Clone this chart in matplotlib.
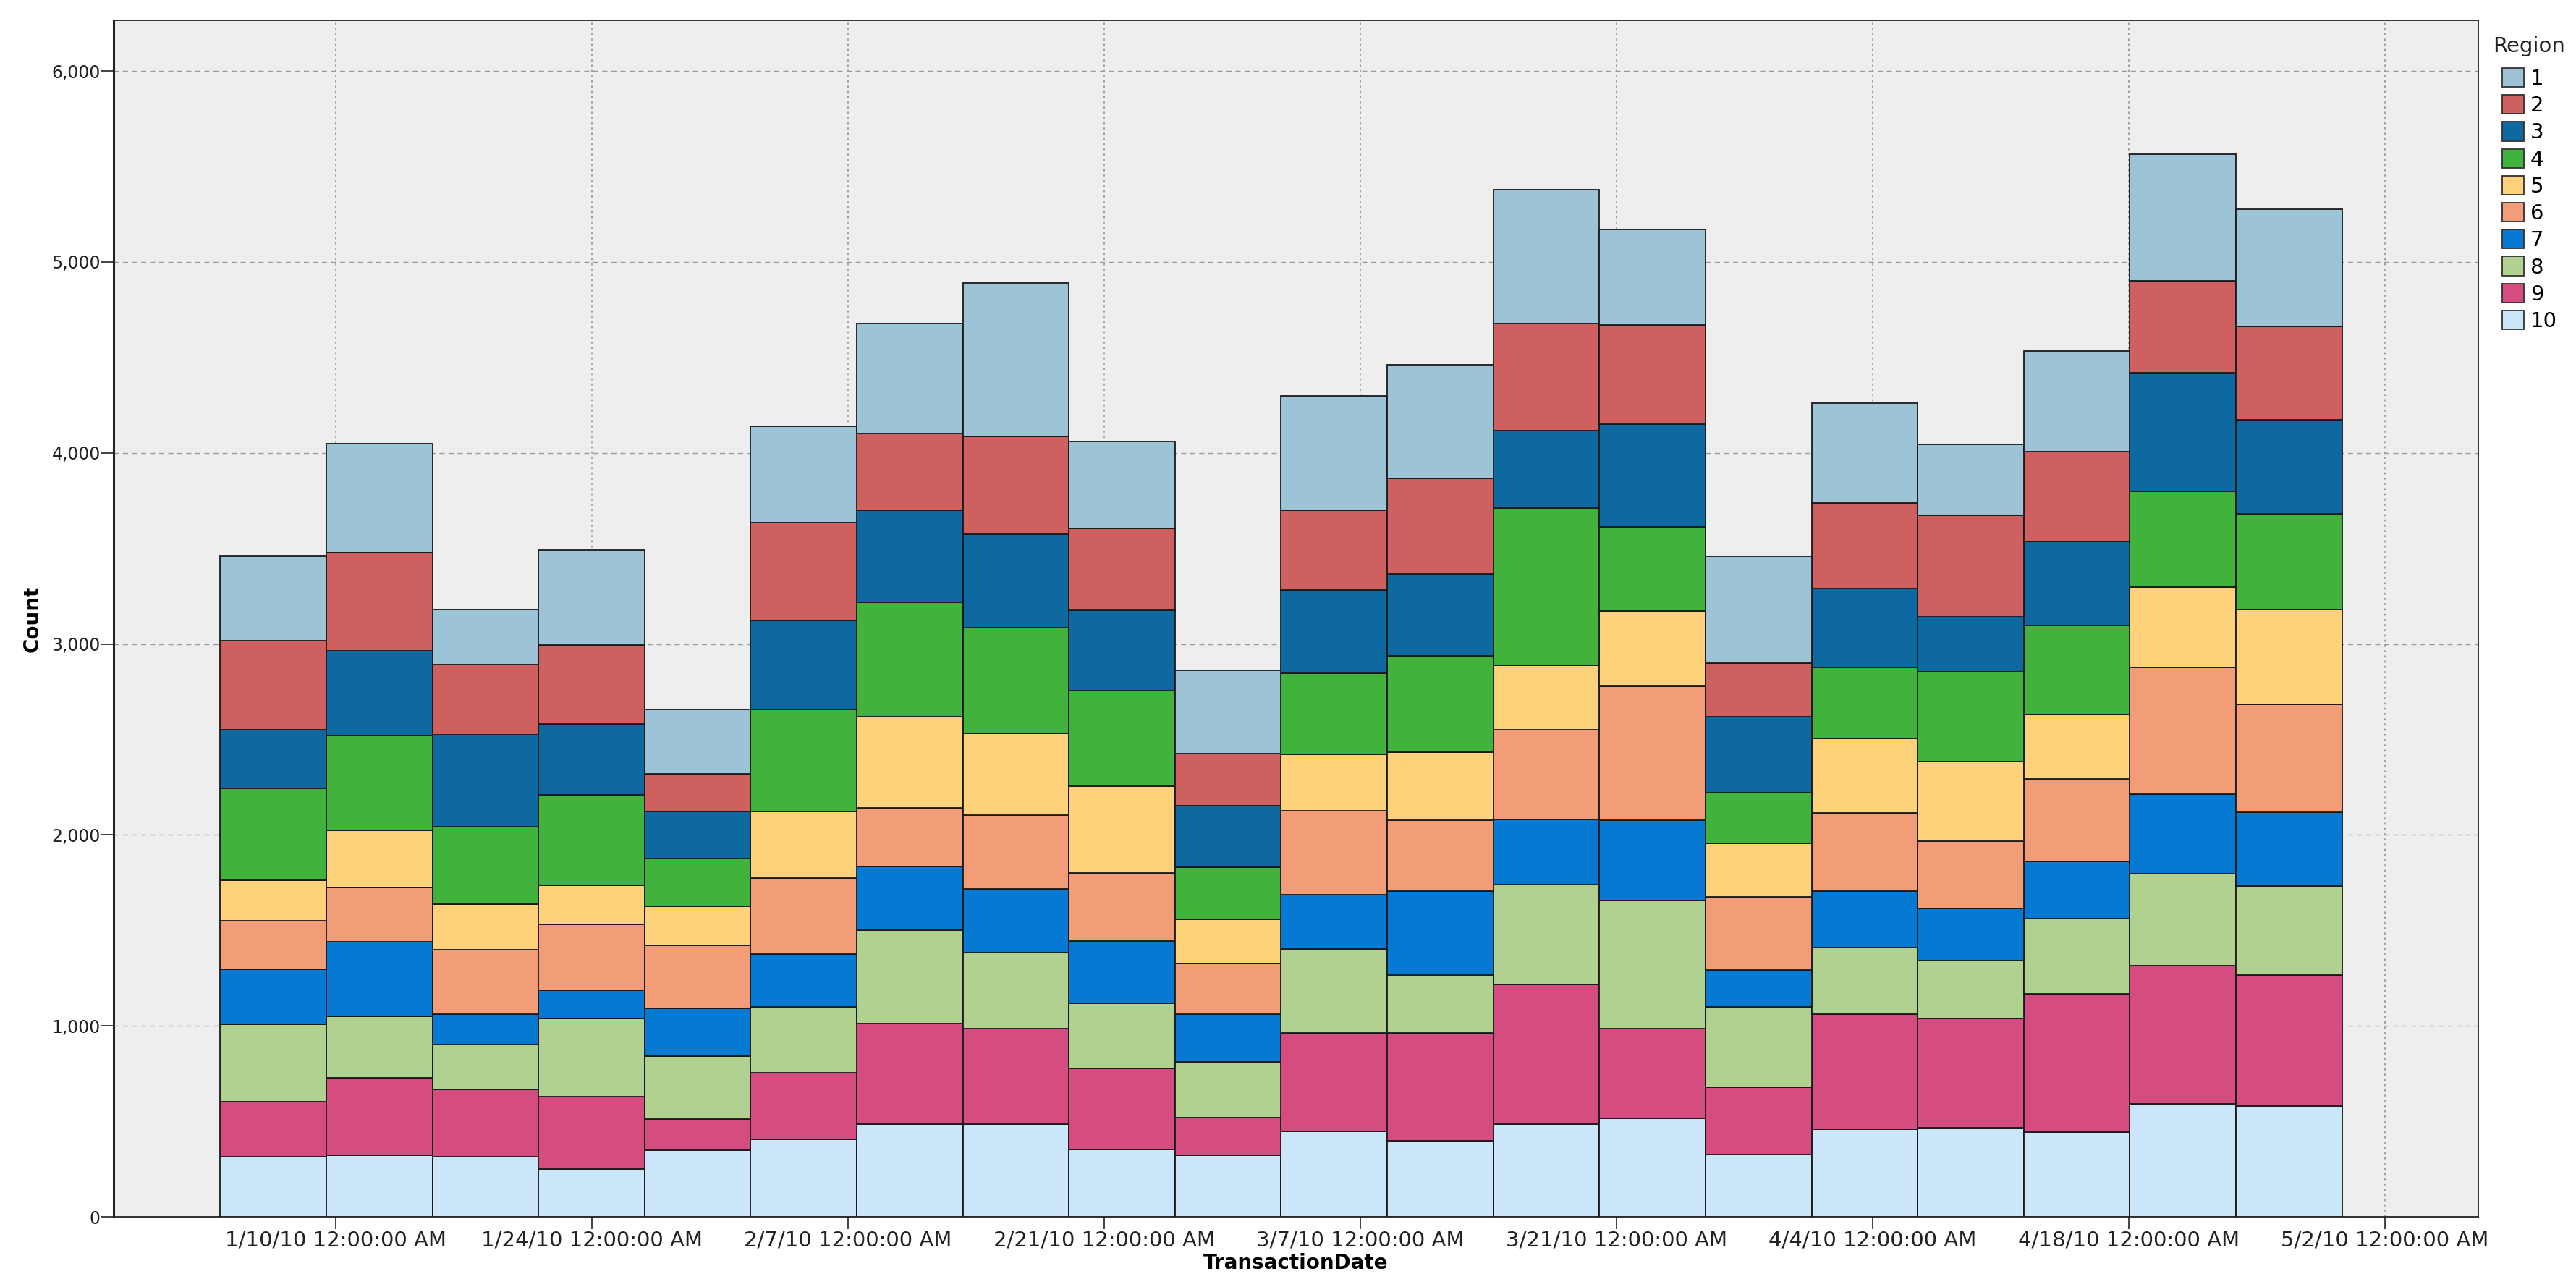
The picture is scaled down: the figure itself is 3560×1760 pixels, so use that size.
import numpy as np
import pandas as pd
import matplotlib
matplotlib.use("Agg")
import matplotlib.pyplot as plt
import matplotlib.dates as mdates
from matplotlib.patches import Patch
from matplotlib.ticker import FuncFormatter, MultipleLocator

# Region names and their colours (region 1 sits on top of each stack)
regions = ["1", "2", "3", "4", "5", "6", "7", "8", "9", "10"]
colors = ["#9dc3d6", "#cf6060", "#0e69a0", "#41b33d", "#fdd27a",
          "#f29d78", "#0679d3", "#b1d190", "#d54d80", "#cbe6f8"]

# counts per bin (20 bins), one list per region
r1 = [443, 571, 285, 498, 338, 504, 575, 801, 456, 436, 598, 595, 704, 503, 557, 525, 371, 525, 665, 614]
r2 = [469, 515, 370, 411, 199, 510, 402, 514, 429, 274, 418, 497, 561, 520, 280, 445, 529, 471, 482, 489]
r3 = [307, 443, 482, 373, 246, 466, 479, 489, 422, 321, 436, 429, 405, 537, 396, 415, 290, 441, 621, 492]
r4 = [481, 498, 406, 471, 249, 537, 601, 554, 497, 273, 422, 506, 821, 439, 267, 371, 471, 466, 500, 500]
r5 = [213, 297, 237, 208, 204, 348, 477, 426, 456, 233, 298, 355, 338, 396, 280, 390, 415, 338, 422, 496]
r6 = [254, 286, 338, 343, 333, 399, 307, 388, 358, 264, 439, 372, 470, 699, 382, 408, 353, 430, 662, 566]
r7 = [285, 391, 157, 148, 247, 277, 335, 335, 324, 250, 284, 439, 341, 422, 196, 297, 272, 302, 419, 386]
r8 = [409, 322, 235, 409, 331, 344, 486, 395, 342, 290, 439, 304, 523, 669, 418, 350, 305, 393, 481, 467]
r9 = [285, 404, 353, 379, 165, 348, 527, 500, 425, 200, 517, 564, 730, 470, 355, 602, 573, 724, 724, 687]
r10 = [316, 323, 316, 251, 347, 406, 487, 487, 352, 321, 446, 399, 487, 517, 325, 458, 465, 443, 590, 579]
counts = [r1, r2, r3, r4, r5, r6, r7, r8, r9, r10]

# histogram bins over TransactionDate
bin_start = pd.Timestamp("2010-01-03 17:00")
bin_days = 5.797
tick_dates = ["2010-01-10", "2010-01-24", "2010-02-07", "2010-02-21", "2010-03-07",
              "2010-03-21", "2010-04-04", "2010-04-18", "2010-05-02"]

fig = plt.figure(figsize=(35.6, 17.6), dpi=100)
ax = fig.add_axes([157 / 3560, 1 - 1681 / 1760, (3425 - 157) / 3560, (1681 - 28) / 1760])
ax.set_facecolor("#eeeeee")

left = mdates.date2num(bin_start) + np.arange(len(r1)) * bin_days
bottom = np.zeros(len(r1))
# stack from region 10 (bottom) up to region 1 (top)
for vals, c in zip(counts[::-1], colors[::-1]):
    ax.bar(left, vals, width=bin_days, bottom=bottom, align="edge",
           color=c, edgecolor="#1a1a1a", linewidth=1.3, zorder=3)
    bottom += np.array(vals)

t0 = mdates.date2num(pd.Timestamp(tick_dates[0]))
t1 = mdates.date2num(pd.Timestamp(tick_dates[-1]))
ax.set_xlim(t0 - 12.12, t1 + 5.1)
ax.set_ylim(0, 6266)

ax.set_xticks([mdates.date2num(pd.Timestamp(d)) for d in tick_dates])
ax.xaxis.set_major_formatter(FuncFormatter(
    lambda x, pos: (lambda d: f"{d.month}/{d.day}/{d:%y} 12:00:00 AM")(mdates.num2date(x))))
ax.yaxis.set_major_locator(MultipleLocator(1000))
ax.yaxis.set_major_formatter(FuncFormatter(lambda y, pos: f"{int(y):,}"))

ax.tick_params(axis="x", labelsize=21, length=12, width=1.2, pad=1.5, colors="#222222")
ax.tick_params(axis="y", labelsize=17, length=12, width=1.2, pad=1, colors="#222222")

ax.set_axisbelow(True)
ax.yaxis.grid(True, linestyle=(0, (5, 4)), color="#9a9a9a", linewidth=1.0)
ax.xaxis.grid(True, linestyle=(0, (1.5, 2.5)), color="#9a9a9a", linewidth=1.3)

for s in ax.spines.values():
    s.set_color("#222222")
    s.set_linewidth(1.3)
ax.spines["left"].set_linewidth(2.2)

ax.set_xlabel("TransactionDate", fontsize=20, fontweight="bold", labelpad=2)
ax.set_ylabel("Count", fontsize=20, fontweight="bold", labelpad=9)

# legend title drawn separately so the gap to the first entry matches
fig.text(3445 / 3560, 1 - 72 / 1760, "Region", fontsize=21, va="baseline", ha="left", color="#222222")
handles = [Patch(facecolor=c, edgecolor="#333333", linewidth=1.3, label=r)
           for r, c in zip(regions, colors)]
leg = fig.legend(handles=handles, loc="upper left",
                 bbox_to_anchor=(3458 / 3560, 1 - 94 / 1760), frameon=False,
                 fontsize=21, borderpad=0, borderaxespad=0,
                 handlelength=1.03, handleheight=1.0, handletextpad=0.3,
                 labelspacing=0.28)

fig.savefig("out.png", dpi=100, facecolor="white")
